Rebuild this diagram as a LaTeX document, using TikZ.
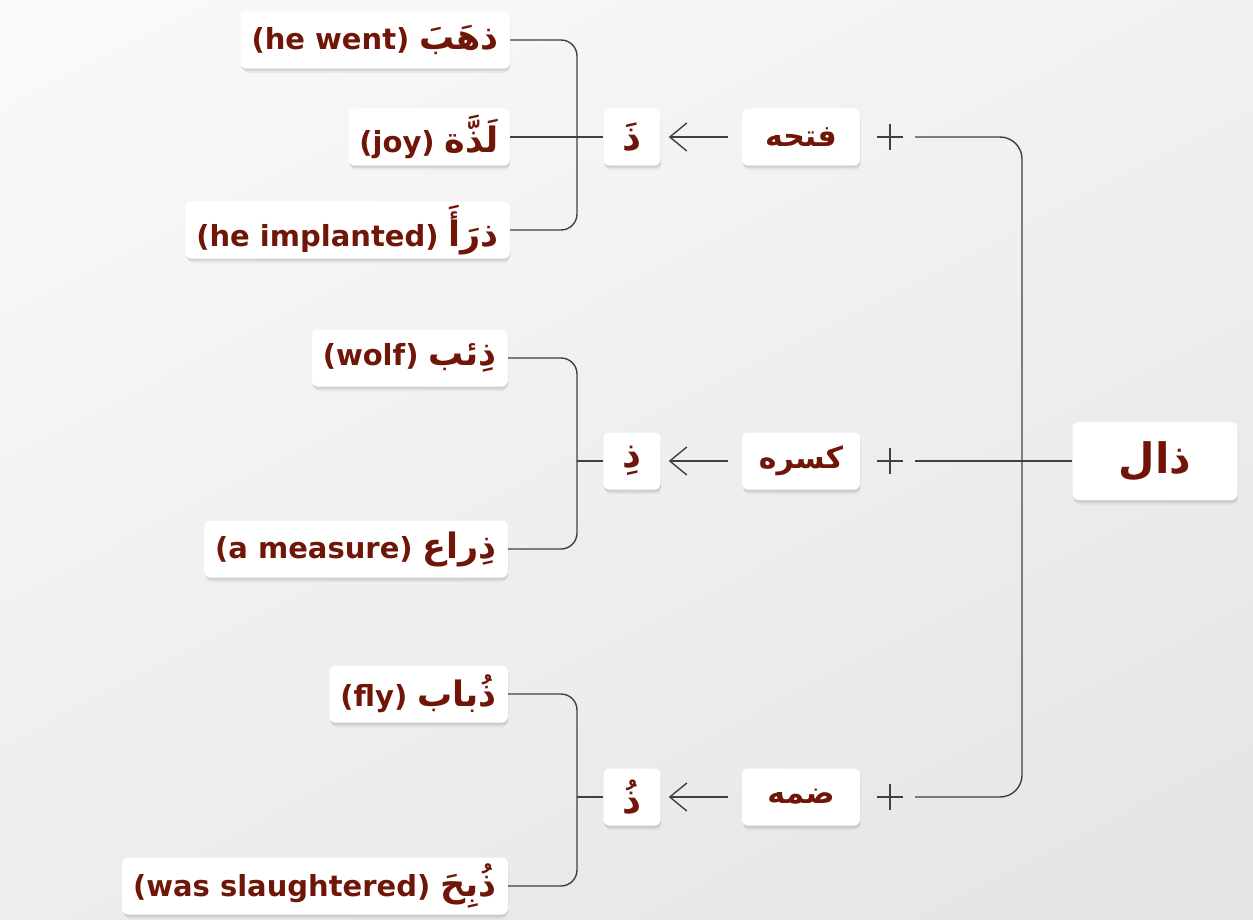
\documentclass[tikz,border=0pt]{standalone}
\usepackage{fontspec}
\setmainfont{DejaVu Sans}
\newfontfamily\arabicfont[Script=Arabic]{DejaVu Sans}
\TeXXeTstate=1
\usetikzlibrary{arrows.meta,shadows,shadings}
\definecolor{txt}{RGB}{112,22,8}
\definecolor{ln}{RGB}{64,64,64}
\definecolor{bgul}{RGB}{250,250,250}
\definecolor{bgur}{RGB}{241,241,241}
\definecolor{bgll}{RGB}{237,237,237}
\definecolor{bglr}{RGB}{228,228,228}
\newcommand{\arw}[1]{{\arabicfont\bfseries\beginR #1\endR}}
\newcommand{\arword}[1]{{\fontsize{35}{38}\selectfont\arabicfont\bfseries\beginR #1\endR}}
\tikzset{
  card/.style={fill=white, rounded corners=6pt, text=txt, inner sep=0pt,
    drop shadow={shadow xshift=1pt, shadow yshift=-5pt, shadow scale=0.99, opacity=0.05, fill=black},
    drop shadow={shadow xshift=0.5pt, shadow yshift=-2.5pt, opacity=0.08, fill=black}},
  wbox/.style={card, anchor=east, inner xsep=11pt, minimum height=57pt,
    font=\fontsize{29}{32}\selectfont\bfseries},
  lbox/.style={card, minimum width=57pt, minimum height=57pt,
    font=\fontsize{37}{40}\selectfont\bfseries},
  hbox/.style={card, minimum width=118pt, minimum height=57pt,
    font=\fontsize{30}{32}\selectfont\bfseries},
  rbox/.style={card, minimum width=165pt, minimum height=78pt,
    font=\fontsize{42}{44}\selectfont\bfseries},
  conn/.style={draw=ln, line width=1.4pt},
  arr/.style={conn, -{Straight Barb[length=17pt,width=28pt]}, shorten <=14pt, shorten >=8pt},
  plusnode/.style={inner sep=0pt, minimum size=26pt,
    path picture={\draw[ln, line width=1.4pt]
      (path picture bounding box.west) -- (path picture bounding box.east)
      (path picture bounding box.north) -- (path picture bounding box.south);}}
}
\begin{document}
\begin{tikzpicture}[x=1pt,y=-1pt]
\useasboundingbox (0,0) rectangle (1253,920);
\shade[upper left=bgul, upper right=bgur, lower left=bgll, lower right=bglr]
  (0,0) rectangle (1253,920);

% root
\node[rbox] (r) at (1155,461) {\arw{ذال}};

% harakat and letters
\node[hbox] (h1) at (801,137) {\arw{فتحه}};
\node[hbox] (h2) at (801,461) {\arw{كسره}};
\node[hbox] (h3) at (801,797) {\arw{ضمه}};
\node[lbox] (d1) at (632,137) {\arw{ذَ}};
\node[lbox] (d2) at (632,461) {\arw{ذِ}};
\node[lbox] (d3) at (632,797) {\arw{ذُ}};
\node[plusnode] (p1) at (890,137) {};
\node[plusnode] (p2) at (890,461) {};
\node[plusnode] (p3) at (890,797) {};

% words
\node[wbox] (w11) at (510,40) {(he went) \arword{ذهَبَ}};
\node[wbox] (w12) at (510,137) {(joy) \arword{لَذَّة}};
\node[wbox] (w13) at (510,230) {(he implanted) \arword{ذرَأَ}};
\node[wbox] (w21) at (508,358) {(wolf) \arword{ذِئب}};
\node[wbox] (w22) at (508,549) {(a measure) \arword{ذِراع}};
\node[wbox] (w31) at (508,694) {(fly) \arword{ذُباب}};
\node[wbox] (w32) at (508,886) {(was slaughtered) \arword{ذُبِحَ}};

\coordinate (j2) at (577,461);
\coordinate (j3) at (577,797);

% trunk
\draw[conn, rounded corners=22pt, shorten <=25pt, shorten >=25pt] (p1.center) -- (1022,137) -- (1022,797) -- (p3.center);
\draw[conn, shorten >=25pt] (r.west) -- (p2.center);

% arrows
\draw[arr] (h1.west) -- (d1.east);
\draw[arr] (h2.west) -- (d2.east);
\draw[arr] (h3.west) -- (d3.east);

% left brackets
\draw[conn, rounded corners=16pt] (w11.east) -- (577,40) -- (577,230) -- (w13.east);
\draw[conn] (w12.east) -- (d1.west);
\draw[conn, rounded corners=16pt] (w21.east) -- (577,358) -- (577,549) -- (w22.east);
\draw[conn] (j2) -- (d2.west);
\draw[conn, rounded corners=16pt] (w31.east) -- (577,694) -- (577,886) -- (w32.east);
\draw[conn] (j3) -- (d3.west);
\end{tikzpicture}
\end{document}
